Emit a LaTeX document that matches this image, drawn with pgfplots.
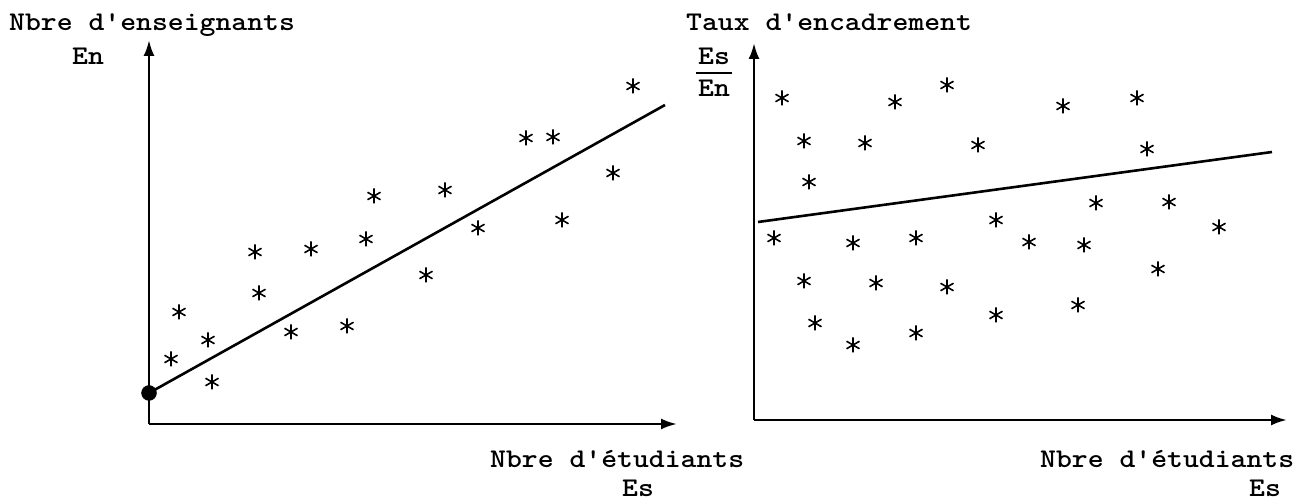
\documentclass[border=0pt]{standalone}
\usepackage{pgfplots}
\pgfplotsset{compat=1.18}
\usepackage{graphicx}
\usetikzlibrary{arrows.meta}
\newcommand{\tw}[1]{\scalebox{1.12}[1]{\fontsize{27bp}{30bp}\ttfamily\bfseries\selectfont #1}}
\begin{document}
\begin{tikzpicture}[x=1bp,y=1bp]
\path[use as bounding box] (0,0) rectangle (1307,504);
\pgfplotsset{
  myaxis/.style={
    x=1bp, y=1bp, anchor=south west, clip=false,
    axis lines=left, xtick=\empty, ytick=\empty,
    axis line style={line width=2.6bp, -{Latex[length=16bp,width=11bp]}},
    xmin=0, ymin=0,
  },
  stars/.style={only marks, mark=asterisk, mark size=7.5bp, black, line width=1.6bp},
}
% Left panel
\begin{axis}[myaxis, at={(149bp,80bp)}, xmax=528, ymax=384]
\addplot[black, line width=2.6bp] coordinates {(0,31) (516,319)};
\addplot[black, only marks, mark=*, mark size=7.5bp] coordinates {(0,31)};
\addplot[stars] coordinates {
(22,65) (30,112) (59,84) (63,42) (106,172) (110,131) (142,92) (162,175)
(198,98) (217,185) (225,228) (277,149) (296,234) (329,196) (377,286)
(404,287) (413,204) (464,251) (484,338)};
\end{axis}
% Right panel
\begin{axis}[myaxis, at={(754bp,84bp)}, xmax=533, ymax=377]
\addplot[black, line width=2.6bp] coordinates {(4,198) (518,268)};
\addplot[stars] coordinates {
(28,322) (50,279) (55,238) (20,182) (50,139) (61,97) (99,75) (99,177)
(111,277) (122,137) (141,318) (162,182) (162,87) (193,335) (193,133)
(224,275) (242,200) (242,105) (275,178) (309,314) (324,115) (330,175)
(342,217) (383,322) (393,271) (404,151) (415,218) (465,193)};
\end{axis}
\begin{scope}[every node/.style={inner sep=0pt}]
\node[anchor=base west] at (9,473) {\tw{Nbre d'enseignants}};
\node[anchor=base west] at (72,439) {\tw{En}};
\node[anchor=base west] at (490,36) {\tw{Nbre d'étudiants}};
\node[anchor=base west] at (622,7) {\tw{Es}};
\node[anchor=base west] at (686,473) {\tw{Taux d'encadrement}};
\node[anchor=base west] at (698,439) {\tw{Es}};
\draw[line width=1.8bp] (696,431) -- (732,431);
\node[anchor=base west] at (698,407) {\tw{En}};
\node[anchor=base west] at (1040,36) {\tw{Nbre d'étudiants}};
\node[anchor=base west] at (1249,7) {\tw{Es}};
\end{scope}
\end{tikzpicture}
\end{document}
